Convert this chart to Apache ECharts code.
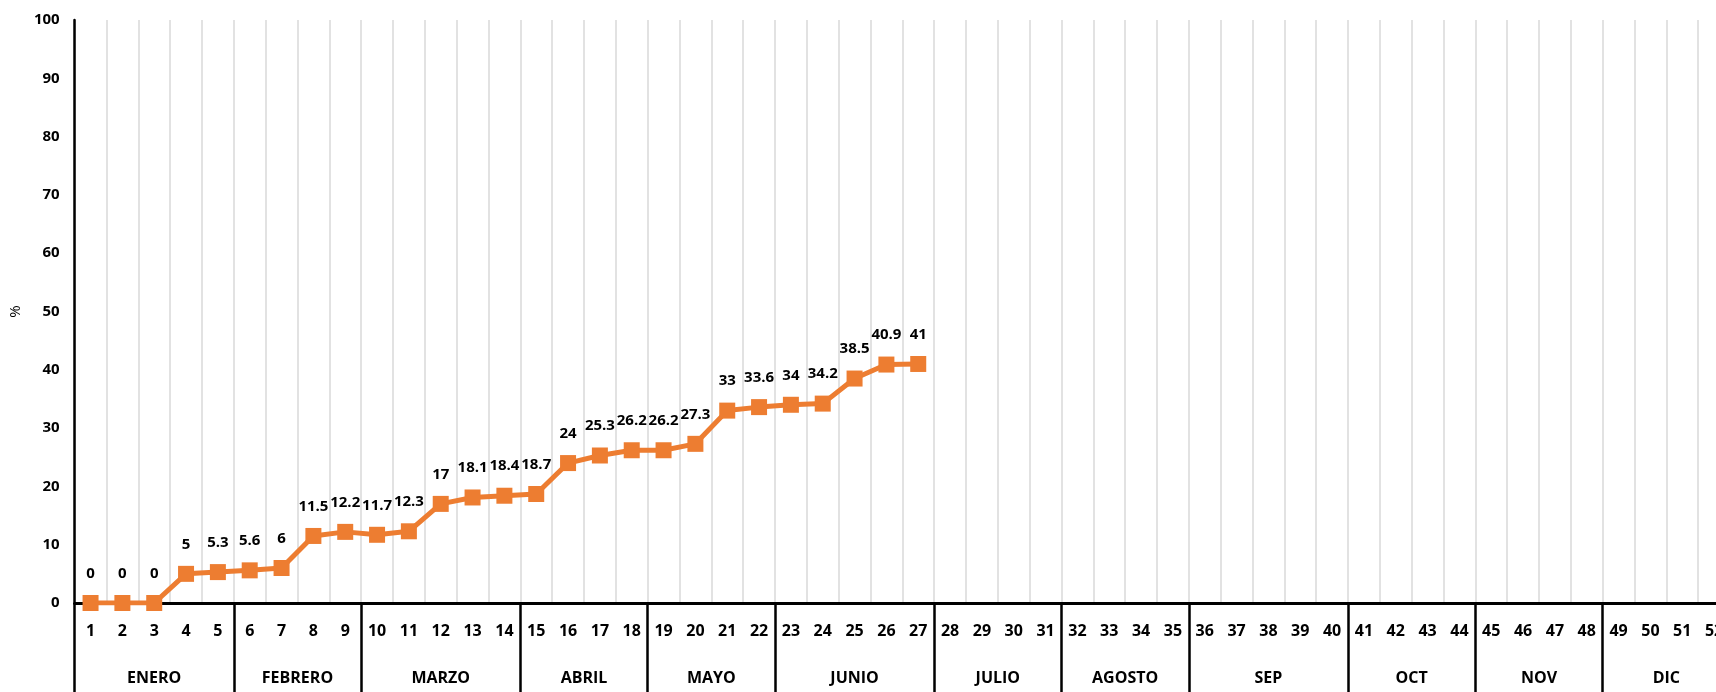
<!DOCTYPE html>
<html>
<head>
<meta charset="utf-8">
<script src="https://cdn.jsdelivr.net/npm/echarts@6/dist/echarts.min.js"></script>
<style>
  html, body { margin: 0; padding: 0; background: #fff; overflow: hidden; width: 1716px; height: 692px; }
  #chart { width: 1730px; height: 692px; }
</style>
</head>
<body>
<div id="chart"></div>
<script>
// Weekly cumulative percentage (weeks 1-52), grouped by month
const weeks = ['1','2','3','4','5','6','7','8','9','10','11','12','13','14','15','16','17','18','19','20',
  '21','22','23','24','25','26','27','28','29','30','31','32','33','34','35','36','37','38','39','40',
  '41','42','43','44','45','46','47','48','49','50','51','52'];
const values = [0, 0, 0, 5, 5.3, 5.6, 6, 11.5, 12.2, 11.7, 12.3, 17, 18.1, 18.4, 18.7, 24, 25.3, 26.2,
  26.2, 27.3, 33, 33.6, 34, 34.2, 38.5, 40.9, 41];
const months = ['ENERO','FEBRERO','MARZO','ABRIL','MAYO','JUNIO','JULIO','AGOSTO','SEP','OCT','NOV','DIC'];
const monthWeeks = [5, 4, 5, 4, 4, 5, 4, 4, 5, 4, 4, 4];
const yTicks = [0, 10, 20, 30, 40, 50, 60, 70, 80, 90, 100];

// month boundaries and centres in week units
const bounds = [0];
monthWeeks.forEach(n => bounds.push(bounds[bounds.length - 1] + n));
const centers = months.map((m, i) => (bounds[i] + bounds[i + 1]) / 2);

const FONT = '"Open Sans", "Noto Sans", sans-serif';
const chart = echarts.init(document.getElementById('chart'), null, { renderer: 'canvas' });

chart.setOption({
  animation: false,
  grid: { left: 74, top: 20, bottom: 89, right: 0 },
  xAxis: [
    {
      type: 'category',
      data: weeks,
      boundaryGap: true,
      axisLine: { show: true, lineStyle: { color: '#000', width: 3 } },
      axisTick: { show: false },
      axisLabel: {
        interval: 0, margin: 20, color: '#000',
        fontFamily: FONT, fontWeight: 'bold', fontSize: 16
      },
      splitLine: { show: true, interval: 0, lineStyle: { color: '#d9d9d9', width: 1.5 } }
    },
    {
      type: 'value',
      min: 0, max: 52,
      position: 'bottom',
      axisLine: { show: false },
      splitLine: { show: false },
      axisTick: {
        show: true, customValues: bounds, length: 100, inside: false,
        lineStyle: { color: '#000', width: 2.5 }
      },
      axisLabel: {
        show: true, customValues: centers, margin: 67, color: '#000',
        fontFamily: FONT, fontWeight: 'bold', fontSize: 16,
        formatter: function (v) {
          const i = centers.findIndex(c => Math.abs(c - v) < 1e-6);
          return i >= 0 ? months[i] : '';
        }
      }
    }
  ],
  yAxis: {
    type: 'value',
    min: yTicks[0], max: yTicks[yTicks.length - 1], interval: 10,
    name: '%',
    nameLocation: 'middle',
    nameRotate: 90,
    nameGap: 48,
    nameTextStyle: { color: '#000', fontFamily: FONT, fontSize: 15 },
    axisLine: { show: true, lineStyle: { color: '#000', width: 2.5 } },
    axisTick: { show: false },
    splitLine: { show: false },
    axisLabel: { margin: 15, color: '#000', fontFamily: FONT, fontWeight: 'bold', fontSize: 15 }
  },
  series: [{
    type: 'line',
    data: values,
    xAxisIndex: 0,
    yAxisIndex: 0,
    symbol: 'rect',
    symbolSize: 16,
    lineStyle: { color: '#ED7D31', width: 5 },
    itemStyle: { color: '#ED7D31' },
    label: {
      show: true, position: 'top', distance: 14, color: '#000',
      fontFamily: FONT, fontWeight: 'bold', fontSize: 15
    },
    z: 5
  }]
});
</script>
</body>
</html>
